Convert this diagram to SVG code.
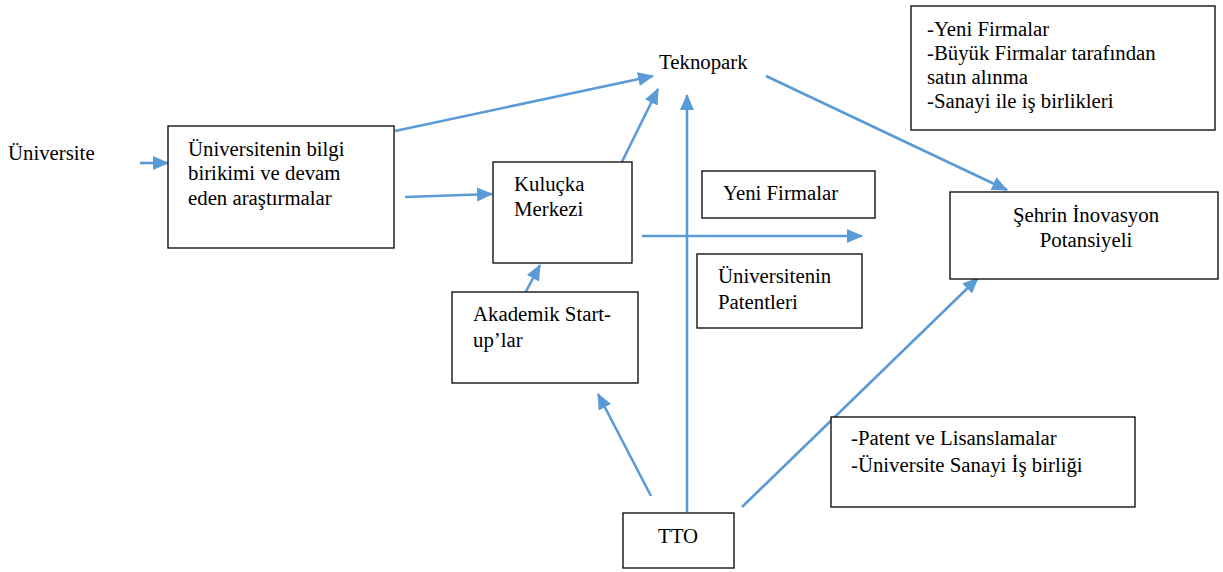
<svg xmlns="http://www.w3.org/2000/svg" width="1223" height="572" viewBox="0 0 1223 572">
<style>
.box{fill:#fff;stroke:#000;stroke-width:1.3}
.t{font-family:'Liberation Serif','DejaVu Serif',serif;font-size:20.8px;fill:#000}
.c{stroke:#5B9BD5;stroke-width:2.6;fill:none;marker-end:url(#ah)}
</style>
<defs>
<marker id="ah" markerUnits="userSpaceOnUse" markerWidth="16" markerHeight="16" refX="15" refY="8" orient="auto">
<path d="M0,1 L16,8 L0,15 z" fill="#5B9BD5"/>
</marker>
</defs>
<rect width="1223" height="572" fill="#fff"/>
<g id="connectors">
<line class="c" x1="140" y1="163" x2="168" y2="163"/>
<line class="c" x1="405" y1="197" x2="492" y2="194"/>
<line class="c" x1="395" y1="131" x2="653" y2="76"/>
<line class="c" x1="607" y1="192" x2="658" y2="89"/>
<line class="c" x1="687" y1="512" x2="687" y2="95"/>
<line class="c" x1="642" y1="236" x2="862" y2="236"/>
<line class="c" x1="522" y1="299" x2="540" y2="265"/>
<line class="c" x1="651" y1="496" x2="598" y2="394"/>
<line class="c" x1="742" y1="507" x2="978" y2="278"/>
<line class="c" x1="766" y1="76" x2="1007" y2="190"/>
</g>
<g id="universite">
<text class="t" font-family="Liberation Serif, serif" x="8" y="160">Üniversite</text>
</g>
<g id="bilgi">
<rect class="box" x="168" y="126" width="226" height="122"/>
<text class="t" x="188" y="156">Üniversitenin bilgi</text>
<text class="t" x="188" y="180">birikimi ve devam</text>
<text class="t" x="188" y="205">eden araştırmalar</text>
</g>
<g id="teknopark">
<text class="t" x="659" y="69">Teknopark</text>
</g>
<g id="kulucka">
<rect class="box" x="493" y="162" width="139" height="101"/>
<text class="t" x="514" y="191">Kuluçka</text>
<text class="t" x="514" y="216">Merkezi</text>
</g>
<g id="yeni-firmalar">
<rect class="box" x="702" y="171" width="173" height="47"/>
<text class="t" x="723" y="200">Yeni Firmalar</text>
</g>
<g id="patentler">
<rect class="box" x="697" y="254" width="165" height="74"/>
<text class="t" x="718" y="283">Üniversitenin</text>
<text class="t" x="718" y="309">Patentleri</text>
</g>
<g id="akademik">
<rect class="box" x="452" y="292" width="186" height="91"/>
<text class="t" x="473" y="321">Akademik Start-</text>
<text class="t" x="473" y="347">up’lar</text>
</g>
<g id="tto">
<rect class="box" x="623" y="513" width="111" height="55"/>
<text class="t" x="658" y="543">TTO</text>
</g>
<g id="sehrin">
<rect class="box" x="950" y="192" width="268" height="87"/>
<text class="t" x="1086" y="222" text-anchor="middle">Şehrin İnovasyon</text>
<text class="t" x="1086" y="247" text-anchor="middle">Potansiyeli</text>
</g>
<g id="sonuclar">
<rect class="box" x="911" y="6" width="304" height="124"/>
<text class="t" x="927" y="36">-Yeni Firmalar</text>
<text class="t" x="927" y="60">-Büyük Firmalar tarafından</text>
<text class="t" x="927" y="84">satın alınma</text>
<text class="t" x="927" y="108">-Sanayi ile iş birlikleri</text>
</g>
<g id="patent-lisans">
<rect class="box" x="831" y="417" width="304" height="90"/>
<text class="t" x="851" y="445">-Patent ve Lisanslamalar</text>
<text class="t" x="851" y="472">-Üniversite Sanayi İş birliği</text>
</g>
</svg>
